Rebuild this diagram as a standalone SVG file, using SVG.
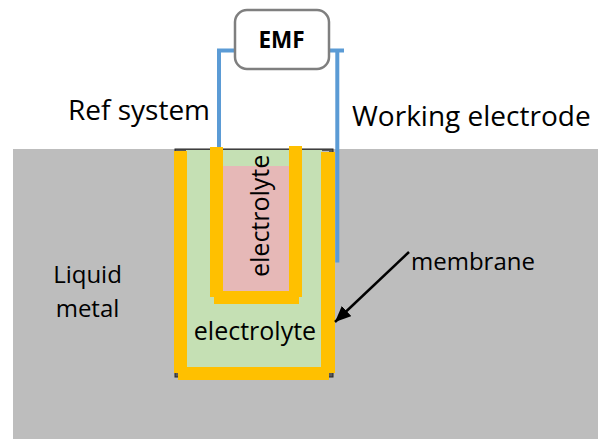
<svg xmlns="http://www.w3.org/2000/svg" width="598" height="439" viewBox="0 0 598 439">
<defs><marker id="ah" markerUnits="userSpaceOnUse" markerWidth="16" markerHeight="14" refX="16" refY="7" orient="auto"><path d="M0 0L16 7L0 14Z" fill="#000"/></marker></defs>
<style>
.t{font-family:"Open Sans","Noto Sans",sans-serif;fill:#000;font-size:24px}
.y{fill:#ffc000}
.b{fill:none;stroke:#5b9bd5;stroke-width:4}
</style>
<rect id="metal" x="13" y="149" width="585" height="290" fill="#bdbdbd"/>
<g id="cell">
<rect x="175" y="149" width="158" height="228" fill="#595959" stroke="#262626" stroke-width="1"/>
<rect x="179" y="151" width="150" height="224" fill="#bdbdbd"/>
<rect x="186" y="150" width="136" height="220" fill="#c5e0b4"/>
<rect x="223" y="166" width="66" height="125" fill="#e6b8b7"/>
<rect class="y" x="174" y="151" width="13" height="222"/>
<rect class="y" x="321" y="152" width="14" height="221"/>
<rect class="y" x="178" y="367" width="151" height="13"/>
<rect class="y" x="210" y="147" width="13" height="150"/>
<rect class="y" x="289" y="146" width="13" height="151"/>
<rect class="y" x="210" y="291" width="92" height="6"/>
<rect class="y" x="214" y="297" width="85" height="7"/>
</g>
<g id="connectors">
<path class="b" d="M235 50.500H219V147"/>
<path class="b" d="M329 50.500H344M337.300 50.500V262.500"/>
<path d="M409 252L335 322" fill="none" stroke="#000" stroke-width="2.500" marker-end="url(#ah)"/>
</g>
<g id="emf"><rect x="235" y="10" width="94" height="59" rx="12" fill="#fff" stroke="#7f7f7f" stroke-width="2.500"/>
<text x="281.500" y="48" text-anchor="middle" class="t" style="font-size:22.500px;font-weight:700">EMF</text></g>
<g id="labels">
<text class="t" x="68" y="119.500" style="font-size:28px">Ref system</text>
<text class="t" x="352" y="125.500" style="font-size:28px">Working electrode</text>
<text class="t" x="87.500" y="283" text-anchor="middle">Liquid</text>
<text class="t" x="87.500" y="317" text-anchor="middle">metal</text>
<text class="t" x="411" y="270">membrane</text>
<text class="t" x="255" y="340" text-anchor="middle" style="font-size:25px">electrolyte</text>
<text class="t" transform="translate(269 277) rotate(-90)" style="font-size:25px">electrolyte</text>
</g>
</svg>
